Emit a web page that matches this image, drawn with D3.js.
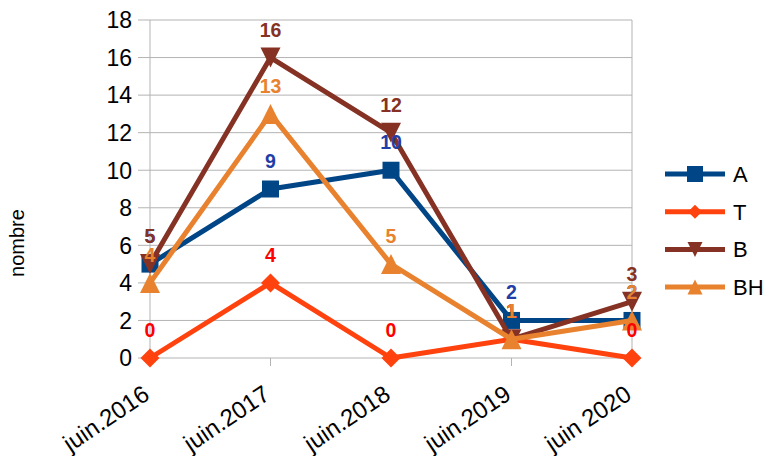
<!DOCTYPE html>
<html><head><meta charset="utf-8">
<script src="https://cdn.jsdelivr.net/npm/d3@7"></script>
<style>body{margin:0;background:#fff}svg{display:block;font-family:"Liberation Sans",Arial,sans-serif}</style>
</head><body><svg id="c" width="771" height="456"></svg>
<script>
const categories = ["juin.2016","juin.2017","juin.2018","juin.2019","juin 2020"];
const seriesNames = ["A","T","B","BH"];
const valuesA = [5,9,10,2,2];
const valuesT = [0,4,0,1,0];
const valuesB = [5,16,12,1,3];
const valuesBH = [4,13,5,1,2];
const yTicks = [0,2,4,6,8,10,12,14,16,18];

const series = [
  {name:"A", values:valuesA, color:"#004586", label:"#1f3ea6", marker:"square"},
  {name:"T", values:valuesT, color:"#ff420e", label:"#ff0000", marker:"diamond"},
  {name:"B", values:valuesB, color:"#853224", label:"#853224", marker:"down"},
  {name:"BH", values:valuesBH, color:"#e8822f", label:"#e8822f", marker:"up"}
];

const svg = d3.select("#c");
const x = d3.scalePoint().domain(categories).range([150, 632]);
const y = d3.scaleLinear().domain([0,18]).range([358, 20]);

svg.append("g").selectAll("line").data(yTicks).join("line")
  .attr("x1",150).attr("x2",632).attr("y1",d=>y(d)).attr("y2",d=>y(d))
  .attr("stroke","#b3b3b3").attr("stroke-width",1);
svg.append("line").attr("x1",150).attr("x2",150).attr("y1",y(18)).attr("y2",366).attr("stroke","#b3b3b3");
svg.append("line").attr("x1",632).attr("x2",632).attr("y1",y(18)).attr("y2",366).attr("stroke","#b3b3b3");
svg.append("g").selectAll("line").data(categories).join("line")
  .attr("x1",d=>x(d)).attr("x2",d=>x(d)).attr("y1",358).attr("y2",366)
  .attr("stroke","#b3b3b3");
svg.append("g").selectAll("line").data(yTicks).join("line")
  .attr("x1",138).attr("x2",150).attr("y1",d=>y(d)).attr("y2",d=>y(d)).attr("stroke","#b3b3b3");

svg.append("g").selectAll("text").data(yTicks).join("text")
  .attr("x",132).attr("y",d=>y(d)).attr("dy","0.36em").attr("text-anchor","end")
  .attr("font-size",23).attr("fill","#000").text(d=>d);

svg.append("g").selectAll("text").data(categories).join("text")
  .attr("transform",d=>`translate(${x(d)+1},${398}) rotate(-34)`)
  .attr("text-anchor","end").attr("font-size",24).attr("fill","#000").text(d=>d);

svg.append("text").attr("transform","translate(24,243) rotate(-90)")
  .attr("text-anchor","middle").attr("font-size",20).text("nombre");

function markerPath(type, s){
  if(type==="square") return d3.symbol(d3.symbolSquare, s*s)();
  if(type==="diamond") return `M0,${-s/2}L${s/2},0L0,${s/2}L${-s/2},0Z`;
  if(type==="down") return `M${-s/2},${-s/2}L${s/2},${-s/2}L0,${s/2}Z`;
  if(type==="up") return `M${-s/2},${s/2}L${s/2},${s/2}L0,${-s/2}Z`;
}

const line = d3.line().x((d,i)=>x(categories[i])).y(d=>y(d));
series.forEach(s=>{
  const g = svg.append("g");
  g.append("path").attr("d",line(s.values)).attr("fill","none")
    .attr("stroke",s.color).attr("stroke-width",5).attr("stroke-linejoin","round");
  g.selectAll("path.m").data(s.values).join("path").attr("class","m")
    .attr("transform",(d,i)=>`translate(${x(categories[i])},${y(d)})`)
    .attr("d",markerPath(s.marker, s.marker==="square"?17:(s.marker==="diamond"?19:20)))
    .attr("fill",s.color);
});
series.forEach(s=>{
  svg.append("g").selectAll("text").data(s.values).join("text")
    .attr("x",(d,i)=>x(categories[i])).attr("y",d=>y(d)-21)
    .attr("text-anchor","middle").attr("font-size",19.5).attr("font-weight","bold")
    .attr("fill",s.label).text(d=>d);
});

const lg = svg.append("g");
series.forEach((s,i)=>{
  const yy = 174 + i*37.7;
  lg.append("line").attr("x1",665).attr("x2",725).attr("y1",yy).attr("y2",yy)
    .attr("stroke",s.color).attr("stroke-width",5);
  lg.append("path").attr("transform",`translate(695,${yy})`)
    .attr("d",markerPath(s.marker, s.marker==="square"?16:(s.marker==="diamond"?14:15))).attr("fill",s.color);
  lg.append("text").attr("x",733).attr("y",yy).attr("dy","0.36em")
    .attr("font-size",22).text(s.name);
});
</script></body></html>
